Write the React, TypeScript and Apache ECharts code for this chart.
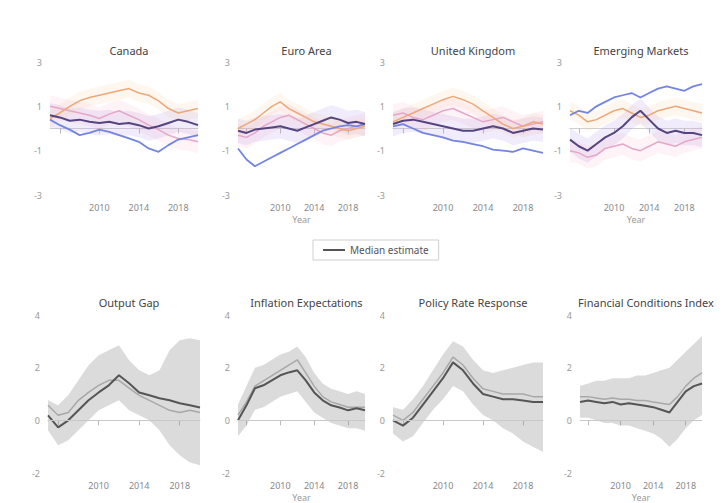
import React, { useEffect, useRef } from "react";
import * as echarts from "echarts";

// x-axis categories shared by every panel
const years = ["2005","2006","2007","2008","2009","2010","2011","2012","2013","2014","2015","2016","2017","2018","2019","2020"];

const topTitles = ["Canada", "Euro Area", "United Kingdom", "Emerging Markets"];
const bottomTitles = ["Output Gap", "Inflation Expectations", "Policy Rate Response", "Financial Conditions Index"];
const legendLabel = "Median estimate";

// top row: four country lines per panel
const topPurple = [
  [0.6,0.5,0.35,0.4,0.3,0.25,0.3,0.2,0.25,0.15,0,0.1,0.25,0.4,0.3,0.15],
  [-0.1,-0.2,-0.05,0.0,0.05,0.1,0.0,-0.1,0.05,0.2,0.35,0.5,0.4,0.25,0.3,0.2],
  [0.2,0.35,0.4,0.3,0.2,0.1,0.0,-0.1,-0.1,0.0,0.1,0.0,-0.2,-0.1,0.0,-0.05],
  [-0.5,-0.8,-1.0,-0.7,-0.4,-0.2,0.1,0.5,0.8,0.4,0.0,-0.2,-0.1,-0.2,-0.2,-0.3],
];
const topBlue = [
  [0.4,0.15,-0.05,-0.3,-0.2,-0.05,-0.15,-0.3,-0.45,-0.6,-0.9,-1.05,-0.75,-0.5,-0.4,-0.3],
  [-0.9,-1.4,-1.7,-1.5,-1.3,-1.1,-0.9,-0.7,-0.5,-0.3,-0.1,0.0,0.1,0.15,0.1,0.2],
  [0.1,0.2,0.0,-0.2,-0.3,-0.4,-0.55,-0.6,-0.7,-0.8,-0.95,-1.0,-1.05,-0.9,-1.0,-1.1],
  [0.6,0.8,0.7,1.0,1.2,1.4,1.5,1.6,1.4,1.6,1.8,1.9,1.8,1.7,1.9,2.0],
];
const topOrange = [
  [0.45,0.7,1.0,1.25,1.4,1.5,1.6,1.7,1.8,1.6,1.5,1.25,0.9,0.7,0.8,0.9],
  [0.0,0.2,0.4,0.7,1.0,1.2,0.9,0.7,0.5,0.3,0.2,0.1,0.0,-0.1,0.0,0.1],
  [0.3,0.5,0.7,0.9,1.1,1.3,1.45,1.3,1.1,0.8,0.5,0.2,0.0,0.1,0.3,0.2],
  [0.8,0.6,0.3,0.4,0.6,0.8,0.9,0.7,0.5,0.6,0.8,0.9,1.0,0.9,0.8,0.7],
];
const topPink = [
  [1.0,0.9,0.8,0.7,0.6,0.45,0.65,0.8,0.6,0.4,0.15,-0.05,-0.3,-0.45,-0.5,-0.6],
  [-0.3,-0.4,-0.2,0.1,0.3,0.5,0.6,0.4,0.2,0.0,-0.2,-0.3,-0.1,0.0,0.1,0.2],
  [0.6,0.7,0.5,0.4,0.6,0.8,0.9,0.7,0.5,0.3,0.4,0.5,0.3,0.1,0.2,0.3],
  [-1.0,-1.1,-1.3,-1.2,-0.9,-0.8,-0.7,-0.9,-1.0,-0.8,-0.6,-0.7,-0.8,-0.6,-0.5,-0.4],
];

// bottom row: median, alternative path and band bounds
const botMedian = [
  [0.19,-0.27,0,0.38,0.76,1.06,1.33,1.71,1.41,1.06,0.95,0.84,0.76,0.65,0.57,0.49],
  [0,0.57,1.22,1.33,1.52,1.71,1.82,1.9,1.52,1.06,0.76,0.57,0.49,0.38,0.46,0.38],
  [0.0,-0.2,0.1,0.6,1.1,1.6,2.2,1.9,1.4,1.0,0.9,0.8,0.8,0.75,0.7,0.7],
  [0.7,0.75,0.7,0.65,0.7,0.6,0.65,0.6,0.55,0.5,0.4,0.3,0.7,1.1,1.3,1.4],
];
const botAlt = [
  [0.57,0.19,0.3,0.76,1.06,1.33,1.52,1.52,1.22,0.95,0.76,0.57,0.38,0.3,0.38,0.3],
  [0.2,0.7,1.3,1.5,1.7,1.9,2.1,2.3,1.8,1.3,0.9,0.7,0.6,0.5,0.5,0.5],
  [0.2,0.0,0.3,0.8,1.3,1.8,2.4,2.1,1.6,1.2,1.1,1.0,1.0,1.0,0.9,0.9],
  [0.9,0.9,0.85,0.8,0.85,0.8,0.8,0.75,0.75,0.7,0.65,0.6,0.9,1.3,1.6,1.8],
];
const botUpper = [
  [0.76,0.57,0.95,1.52,2.09,2.47,2.66,2.85,2.28,1.9,1.71,1.9,2.66,3.04,3.12,3.04],
  [0.6,1.3,2.0,2.1,2.3,2.5,2.6,2.8,2.4,1.8,1.4,1.2,1.1,1.0,1.1,1.0],
  [0.5,0.4,0.8,1.3,1.9,2.5,3.0,2.8,2.3,1.9,1.8,1.9,2.0,2.1,2.2,2.2],
  [1.3,1.4,1.5,1.5,1.6,1.6,1.6,1.7,1.7,1.8,1.9,2.0,2.3,2.6,2.9,3.2],
];
const botLower = [
  [-0.38,-0.95,-0.76,-0.38,0,0.38,0.57,0.76,0.38,0.19,0,-0.38,-0.95,-1.33,-1.6,-1.71],
  [-0.6,-0.2,0.4,0.5,0.7,0.9,1.0,1.1,0.7,0.3,0.1,-0.1,-0.2,-0.3,-0.3,-0.4],
  [-0.5,-0.8,-0.6,-0.1,0.4,0.8,1.3,1.1,0.6,0.2,0.0,-0.3,-0.5,-0.8,-1.0,-1.2],
  [0.1,0.1,0.0,-0.1,-0.1,-0.2,-0.2,-0.3,-0.4,-0.5,-0.7,-1.0,-0.7,-0.3,0.0,0.2],
];

const topLefts = [50, 238, 393, 570];
const topWidths = [148, 127, 150, 132];
const botLefts = [48, 238, 393, 580];
const botWidths = [152, 127, 150, 122];

const FONT = "'Noto Sans', sans-serif";

export default function App() {
  const ref = useRef<HTMLDivElement>(null);

  useEffect(() => {
    if (!ref.current) return;
    const chart = echarts.init(ref.current, undefined, { renderer: "svg" });

    const grids: any[] = [];
    const xAxes: any[] = [];
    const yAxes: any[] = [];
    const series: any[] = [];
    const titles: any[] = [];

    const addAxes = (i: number, min: number, max: number, showName: boolean) => {
      xAxes.push({
        type: "category", gridIndex: i, data: years, boundaryGap: false,
        axisLine: { lineStyle: { color: "#d0d0d0" } },
        axisTick: { show: true, alignWithLabel: true, interval: (idx: number) => idx % 4 === 1, lineStyle: { color: "#bbb" } },
        axisLabel: { interval: (idx: number) => idx % 4 === 1 && idx > 1, color: "#888", fontSize: 9, fontFamily: FONT },
        name: showName ? "Year" : "", nameLocation: "middle", nameGap: 20,
        nameTextStyle: { color: "#999", fontSize: 9, fontFamily: FONT },
      });
      yAxes.push({
        type: "value", gridIndex: i, min, max, interval: 2,
        axisLine: { show: false }, axisTick: { show: false },
        splitLine: { show: false },
        axisLabel: { color: "#999", fontSize: 9, fontFamily: FONT },
      });
    };

    // shaded range between lo and hi, drawn as a stacked pair of lines
    const band = (i: number, lo: number[], hi: number[], color: string, key: string) => {
      series.push({
        type: "line", xAxisIndex: i, yAxisIndex: i, stack: key, stackStrategy: "all", data: lo,
        symbol: "none", lineStyle: { opacity: 0 }, silent: true,
      });
      series.push({
        type: "line", xAxisIndex: i, yAxisIndex: i, stack: key, stackStrategy: "all",
        data: hi.map((v, k) => +(v - lo[k]).toFixed(3)),
        symbol: "none", lineStyle: { opacity: 0 }, areaStyle: { color, origin: "start" }, silent: true,
      });
    };

    const line = (i: number, data: number[], color: string, width: number, name?: string) => {
      series.push({
        type: "line", name, xAxisIndex: i, yAxisIndex: i, data,
        symbol: "none", lineStyle: { color, width }, itemStyle: { color },
      });
    };

    for (let p = 0; p < 4; p++) {
      const i = p;
      grids.push({ left: topLefts[p], width: topWidths[p], top: 62, height: 133 });
      titles.push({
        text: topTitles[p], left: topLefts[p] + topWidths[p] / 2, top: 40, textAlign: "center",
        textStyle: { fontSize: 11, fontWeight: "normal", color: "#444", fontFamily: FONT },
      });
      addAxes(i, -3, 3, p === 1 || p === 3);
      band(i, topPurple[p].map(v => v - 0.55), topPurple[p].map(v => v + 0.55), "rgba(170,150,230,0.25)", "pb" + p);
      band(i, topPink[p].map(v => v - 0.5), topPink[p].map(v => v + 0.5), "rgba(245,170,200,0.2)", "kb" + p);
      band(i, topOrange[p].map(v => v - 0.4), topOrange[p].map(v => v + 0.4), "rgba(250,200,150,0.2)", "ob" + p);
      line(i, topPink[p], "#e7a6c8", 1.5);
      line(i, topOrange[p], "#eea777", 1.5);
      line(i, topBlue[p], "#7385e0", 1.8);
      line(i, topPurple[p], "#54447f", 2);
    }

    for (let p = 0; p < 4; p++) {
      const i = p + 4;
      grids.push({ left: botLefts[p], width: botWidths[p], top: 315, height: 158 });
      titles.push({
        text: bottomTitles[p], left: botLefts[p] + botWidths[p] / 2, top: 292, textAlign: "center",
        textStyle: { fontSize: 11, fontWeight: "normal", color: "#444", fontFamily: FONT },
      });
      addAxes(i, -2, 4, p === 1 || p === 3);
      band(i, botLower[p], botUpper[p], "rgba(140,140,140,0.45)", "gb" + p);
      series.push({
        type: "line", xAxisIndex: i, yAxisIndex: i, data: botAlt[p],
        symbol: "none", lineStyle: { color: "#a8a8a8", width: 1.5 },
        markLine: {
          silent: true, symbol: "none", label: { show: false },
          lineStyle: { color: "#c8c8c8", type: "solid", width: 1 },
          data: [{ yAxis: 0 }],
        },
      });
      line(i, botMedian[p], "#555555", 2, legendLabel);
    }

    chart.setOption({
      animation: false,
      backgroundColor: "#ffffff",
      title: titles,
      grid: grids,
      xAxis: xAxes,
      yAxis: yAxes,
      series,
      legend: {
        data: [legendLabel], left: 313, top: 240,
        itemWidth: 22, itemHeight: 2, icon: "rect",
        borderColor: "#cfcfcf", borderWidth: 1, padding: [5, 10],
        textStyle: { fontSize: 10, color: "#555", fontFamily: FONT },
      },
    });

    return () => chart.dispose();
  }, []);

  return <div ref={ref} style={{ position: "fixed", left: 0, top: 0, width: 726, height: 503 }} />;
}
